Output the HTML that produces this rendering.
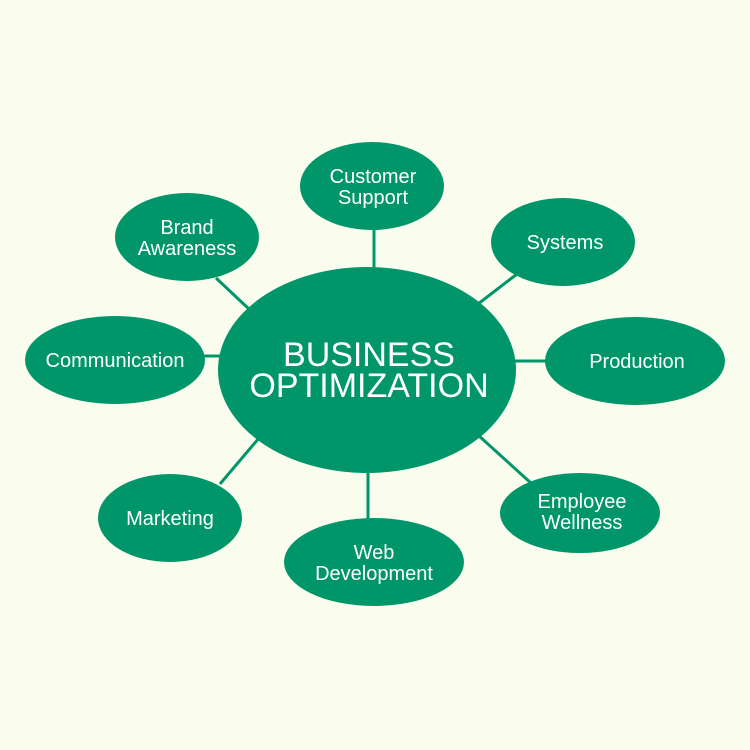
<!DOCTYPE html>
<html><head><style>body{margin:0;background:#fafdee}</style></head><body>
<svg width="750" height="750" viewBox="0 0 750 750" xmlns="http://www.w3.org/2000/svg" style="display:block">
<rect width="750" height="750" fill="#fafdee"/>
<g stroke="#00966a" stroke-width="3">
<line x1="374" y1="228" x2="374" y2="270"/>
<line x1="216" y1="278" x2="250" y2="310"/>
<line x1="517" y1="274" x2="478" y2="304"/>
<line x1="203" y1="356" x2="222" y2="356"/>
<line x1="513" y1="361" x2="547" y2="361"/>
<line x1="220" y1="484" x2="259" y2="438"/>
<line x1="368" y1="470" x2="368" y2="521"/>
<line x1="478" y1="435" x2="532" y2="484"/>
</g>
<g fill="#00966a">
<ellipse cx="367" cy="370" rx="149" ry="103"/>
<ellipse cx="372" cy="186" rx="72" ry="44"/>
<ellipse cx="187" cy="237" rx="72" ry="44"/>
<ellipse cx="563" cy="242" rx="72" ry="44"/>
<ellipse cx="115" cy="360" rx="90" ry="44"/>
<ellipse cx="635" cy="361" rx="90" ry="44"/>
<ellipse cx="170" cy="518" rx="72" ry="44"/>
<ellipse cx="374" cy="562" rx="90" ry="44"/>
<ellipse cx="580" cy="513" rx="80" ry="40"/>
</g>
<g fill="#fff" font-family="Liberation Sans, sans-serif" text-anchor="middle" font-size="20">
<text x="369" y="366" font-size="34">BUSINESS</text>
<text x="369" y="397" font-size="34">OPTIMIZATION</text>
<text x="373" y="183">Customer</text><text x="373" y="204">Support</text>
<text x="187" y="234">Brand</text><text x="187" y="255">Awareness</text>
<text x="565" y="249">Systems</text>
<text x="115" y="367">Communication</text>
<text x="637" y="368">Production</text>
<text x="170" y="525">Marketing</text>
<text x="374" y="559">Web</text><text x="374" y="580">Development</text>
<text x="582" y="508">Employee</text><text x="582" y="529">Wellness</text>
</g>
</svg>
</body></html>
